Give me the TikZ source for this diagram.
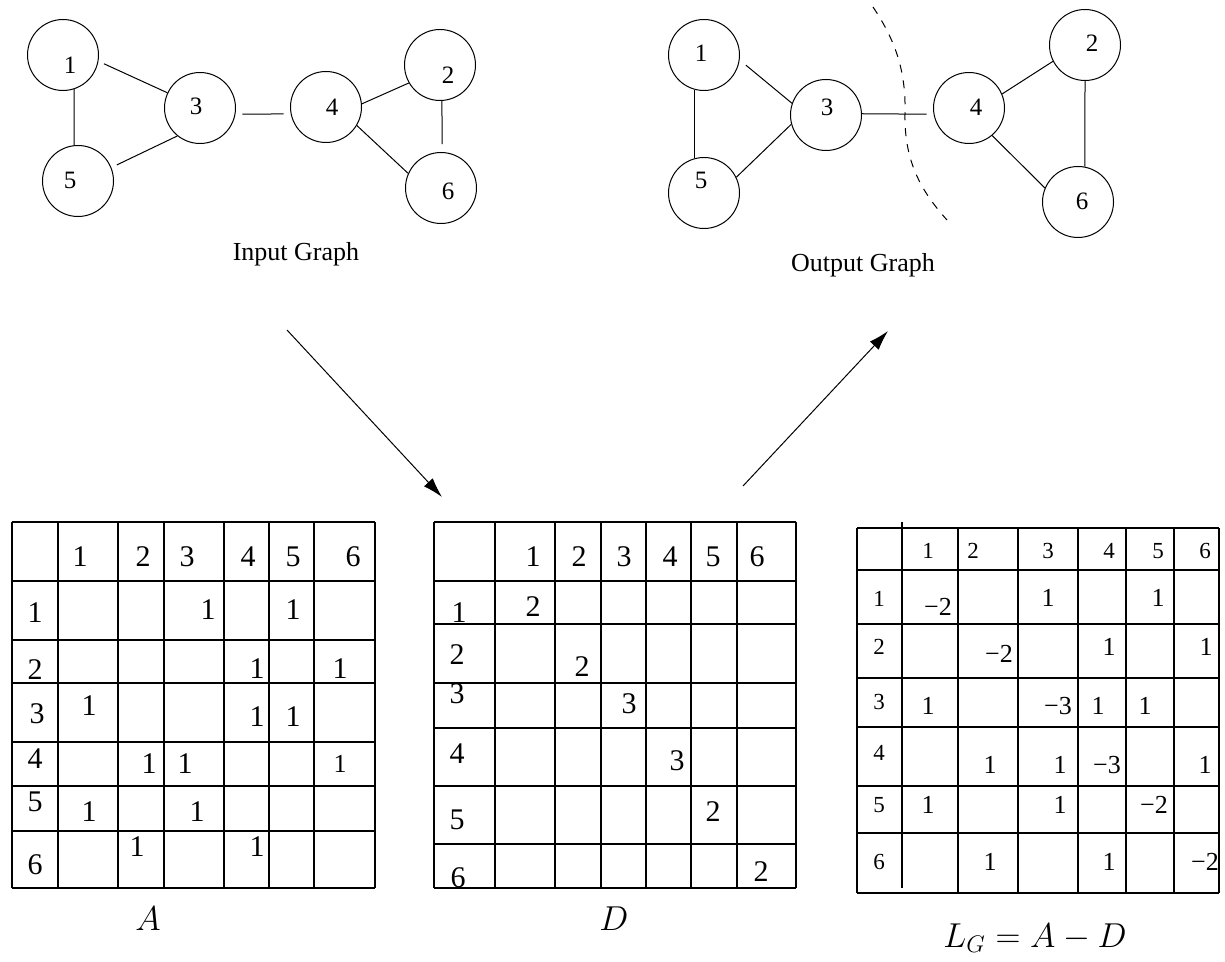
\documentclass[tikz,border=0pt]{standalone}
\usepackage{amsmath}
\usepackage{fontspec}
\setmainfont{Liberation Serif}
\usetikzlibrary{arrows.meta}

\begin{document}
\begin{tikzpicture}[
		x=0.5pt, y=-0.5pt,
		line width=0.5pt,
		every node/.style={inner sep=0pt},
		vertex/.style={circle, draw, minimum size=35.5pt},
		vlabel/.style={font=\fontsize{12.5}{15}\selectfont},
		caption/.style={font=\fontsize{13}{16}\selectfont, anchor=base},
		entry/.style={font=\fontsize{15}{18}\selectfont},
		lhead/.style={font=\fontsize{11.5}{14}\selectfont},
		lentry/.style={font=\fontsize{13}{16}\selectfont},
		mlabel/.style={font=\fontsize{18}{22}\selectfont},
		grid line/.style={line width=0.6pt}
	]
  \useasboundingbox (0,0) rectangle (1225,962);

  % input graph
  \node (in_1) [vertex] at (63,55) {};
  \node (in_1_label) [vlabel] at (70,65) {1};
  \node (in_5) [vertex] at (78,181) {};
  \node (in_5_label) [vlabel] at (70,180) {5};
  \node (in_3) [vertex] at (200,108) {};
  \node (in_3_label) [vlabel] at (196,106) {3};
  \node (in_4) [vertex] at (326,107) {};
  \node (in_4_label) [vlabel] at (332,107) {4};
  \node (in_2) [vertex] at (440,65) {};
  \node (in_2_label) [vlabel] at (448,75) {2};
  \node (in_6) [vertex] at (441,188) {};
  \node (in_6_label) [vlabel] at (448,191) {6};
  \node (in_caption) [caption] at (296,261) {Input Graph};
  \draw (in_1.-72) -- (in_5.96);
  \draw [shorten <=3pt] (in_1.-10) -- (in_3.155);
  \draw [shorten <=3pt] (in_5.22) -- (in_3.231);
  \draw [shorten <=3.5pt, shorten >=3.5pt] (in_3.-10) -- (in_4.191);
  \draw (in_4.5) -- (in_2.210);
  \draw [shorten >=4pt] (in_2.-87) -- (in_6.88);
  \draw (in_4.-31) -- (in_6.156);

  % output graph
  \node (out_1) [vertex] at (704,55) {};
  \node (out_1_label) [vlabel] at (701,53) {1};
  \node (out_5) [vertex] at (704,193) {};
  \node (out_5_label) [vlabel] at (701,180) {5};
  \node (out_3) [vertex] at (826,115) {};
  \node (out_3_label) [vlabel] at (827,107) {3};
  \node (out_4) [vertex] at (969,108) {};
  \node (out_4_label) [vlabel] at (976,107) {4};
  \node (out_2) [vertex] at (1085,45) {};
  \node (out_2_label) [vlabel] at (1092,43) {2};
  \node (out_6) [vertex] at (1078,202) {};
  \node (out_6_label) [vlabel] at (1082,201) {6};
  \node (out_caption) [caption] at (863,272) {Output Graph};
  \draw (out_1.-105) -- (out_5.105);
  \draw [shorten <=4pt] (out_1.-8) -- (out_3.161);
  \draw (out_5.26) -- (out_3.195);
  \draw [shorten >=3.5pt] (out_3.2) -- (out_4.190);
  \draw (out_4.23) -- (out_2.207);
  \draw (out_2.-90) -- (out_6.79);
  \draw (out_4.-50) -- (out_6.157);
  \draw [dash pattern=on 4pt off 4pt] (873,7) .. controls (895,40) and (906,70) .. (905,113)
    .. controls (904,160) and (920,190) .. (947,220);

  % arrows
  \coordinate (down_start) at (287,330);
  \coordinate (down_end) at (442,497);
  \coordinate (up_start) at (743,486);
  \coordinate (up_end) at (888,331);
  \draw [-{Latex[length=10pt, width=6pt]}] (down_start) -- (down_end);
  \draw [-{Latex[length=10pt, width=6pt]}] (up_start) -- (up_end);

  % table A
  \foreach \x in {12,58,118,164,224,269,314,375}
    \draw [grid line] (\x,522) -- (\x,888);
  \foreach \y in {522,581,640,683,742,786,831,888}
    \draw [grid line] (12,\y) -- (375,\y);
  \node (a_h1) [entry] at (80,557) {1};
  \node (a_h2) [entry] at (143,557) {2};
  \node (a_h3) [entry] at (187,557) {3};
  \node (a_h4) [entry] at (248,557) {4};
  \node (a_h5) [entry] at (293,557) {5};
  \node (a_h6) [entry] at (353,557) {6};
  \node (a_r1) [entry] at (35,613) {1};
  \node (a_r2) [entry] at (35,670) {2};
  \node (a_r3) [entry] at (37,714) {3};
  \node (a_r4) [entry] at (35,759) {4};
  \node (a_r5) [entry] at (35,802) {5};
  \node (a_r6) [entry] at (35,865) {6};
  \node (a_13) [entry] at (208,610) {1};
  \node (a_15) [entry] at (293,610) {1};
  \node (a_24) [entry] at (257,669) {1};
  \node (a_26) [entry] at (340,669) {1};
  \node (a_31) [entry] at (89,706) {1};
  \node (a_34) [entry] at (257,717) {1};
  \node (a_35) [entry] at (293,717) {1};
  \node (a_42) [entry] at (149,764) {1};
  \node (a_43) [entry] at (185,764) {1};
  \node (a_46) [lentry] at (340,764) {1};
  \node (a_51) [entry] at (89,812) {1};
  \node (a_53) [entry] at (197,812) {1};
  \node (a_62) [entry] at (137,847) {1};
  \node (a_64) [entry] at (257,847) {1};
  \node (a_name) [mlabel] at (148,919) {$A$};

  % table D
  \foreach \x in {434,495,555,601,646,691,737,796}
    \draw [grid line] (\x,522) -- (\x,888);
  \foreach \y in {522,581,624,683,728,786,844,888}
    \draw [grid line] (434,\y) -- (796,\y);
  \node (d_h1) [entry] at (533,557) {1};
  \node (d_h2) [entry] at (579,557) {2};
  \node (d_h3) [entry] at (624,557) {3};
  \node (d_h4) [entry] at (670,557) {4};
  \node (d_h5) [entry] at (713,557) {5};
  \node (d_h6) [entry] at (757,557) {6};
  \node (d_r1) [entry] at (459,613) {1};
  \node (d_r2) [entry] at (457,655) {2};
  \node (d_r3) [entry] at (457,694) {3};
  \node (d_r4) [entry] at (457,754) {4};
  \node (d_r5) [entry] at (457,820) {5};
  \node (d_r6) [entry] at (458,878) {6};
  \node (d_11) [entry] at (533,607) {2};
  \node (d_22) [entry] at (582,667) {2};
  \node (d_33) [entry] at (629,704) {3};
  \node (d_44) [entry] at (677,761) {3};
  \node (d_55) [entry] at (713,812) {2};
  \node (d_66) [entry] at (761,872) {2};
  \node (d_name) [mlabel] at (614,919) {$D$};

  % table L_G
  \foreach \x in {857,958,1018,1078,1126,1174,1219}
    \draw [grid line] (\x,528) -- (\x,893);
  \foreach \y in {528,570,624,678,727,786,833,893}
    \draw [grid line] (857,\y) -- (1219,\y);
  \draw [line width=1.2pt] (902,522) -- (902,888);
  \node (l_h1) [lhead] at (928,551) {1};
  \node (l_h2) [lhead] at (973,551) {2};
  \node (l_h3) [lhead] at (1048,551) {3};
  \node (l_h4) [lhead] at (1109,551) {4};
  \node (l_h5) [lhead] at (1158,551) {5};
  \node (l_h6) [lhead] at (1205,551) {6};
  \node (l_r1) [lhead] at (879,599) {1};
  \node (l_r2) [lhead] at (879,647) {2};
  \node (l_r3) [lhead] at (879,702) {3};
  \node (l_r4) [lhead] at (879,753) {4};
  \node (l_r5) [lhead] at (879,805) {5};
  \node (l_r6) [lhead] at (879,862) {6};
  \node (l_11) [lentry] at (938,607) {−2};
  \node (l_13) [lentry] at (1048,598) {1};
  \node (l_15) [lentry] at (1158,598) {1};
  \node (l_22) [lentry] at (999,654) {−2};
  \node (l_24) [lentry] at (1109,647) {1};
  \node (l_26) [lentry] at (1206,647) {1};
  \node (l_31) [lentry] at (928,706) {1};
  \node (l_33) [lentry] at (1058,706) {−3};
  \node (l_34) [lentry] at (1098,706) {1};
  \node (l_35) [lentry] at (1145,706) {1};
  \node (l_42) [lentry] at (990,765) {1};
  \node (l_43) [lentry] at (1060,765) {1};
  \node (l_44) [lentry] at (1107,765) {−3};
  \node (l_46) [lentry] at (1205,765) {1};
  \node (l_51) [lentry] at (928,805) {1};
  \node (l_53) [lentry] at (1060,805) {1};
  \node (l_55) [lentry] at (1154,805) {−2};
  \node (l_62) [lentry] at (990,862) {1};
  \node (l_64) [lentry] at (1109,862) {1};
  \node (l_66) [lentry] at (1205,862) {−2};
  \node (l_name) [mlabel, anchor=base] at (1035,947) {$L_G = A - D$};
\end{tikzpicture}
\end{document}
